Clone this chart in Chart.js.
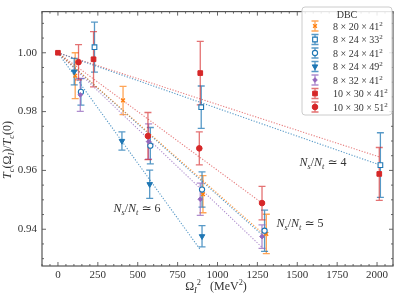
<!DOCTYPE html>
<html>
<head>
<meta charset="utf-8">
<script src="https://cdn.jsdelivr.net/npm/chart.js@4.4.0/dist/chart.umd.min.js"></script>
<style>
  html, body { margin: 0; padding: 0; background: #fff; }
  #wrap { width: 399px; height: 299px; }
</style>
</head>
<body>
<div id="wrap"><canvas id="chart"></canvas></div>
<script>
// data: x = Omega_I^2 (MeV^2), y = Tc(Omega_I)/Tc(0), e = error
const x8_20_41 = [108, 408, 909, 1306];
const y8_20_41 = [0.9922, 0.9838, 0.9519, 0.9384];
const e8_20_41 = [0.0078, 0.0048, 0.0063, 0.0067];

const x8_24_33 = [229, 898, 2021];
const y8_24_33 = [1.0019, 0.9815, 0.9618];
const e8_24_33 = [0.0085, 0.0072, 0.011];

const x8_24_41 = [144, 579, 903, 1295];
const y8_24_41 = [0.9867, 0.9684, 0.9535, 0.9395];
const e8_24_41 = [0.0045, 0.0062, 0.006, 0.007];

const x8_24_49 = [102, 401, 575, 903];
const y8_24_49 = [0.9936, 0.9700, 0.9553, 0.9376];
const e8_24_49 = [0.0045, 0.0031, 0.0048, 0.0036];

const x8_32_41 = [140, 568, 892, 1279];
const y8_32_41 = [0.9857, 0.9698, 0.9502, 0.9375];
const e8_32_41 = [0.0056, 0.006, 0.0055, 0.004];

const x10_30_41 = [0, 223, 892, 2014];
const y10_30_41 = [1.0, 0.9978, 0.9931, 0.9588];
const e10_30_41 = [0, 0.0094, 0.0108, 0.009];

const x10_30_51 = [129, 564, 886, 1279];
const y10_30_51 = [0.9968, 0.9717, 0.9675, 0.9489];
const e10_30_51 = [0.006, 0.008, 0.0056, 0.0057];

// dotted fit lines all start at (0, 1)
const fitEndX = [1300, 2021, 1290, 890, 1280, 2014, 1279];
const fitEndY = [0.9378, 0.9618, 0.9376, 0.9332, 0.9338, 0.9646, 0.9489];

const seriesLabels = ['8 × 20 × 41', '8 × 24 × 33', '8 × 24 × 41', '8 × 24 × 49', '8 × 32 × 41', '10 × 30 × 41', '10 × 30 × 51'];
const xTicks = [0, 250, 500, 750, 1000, 1250, 1500, 1750, 2000];
const yTicks = [0.94, 0.96, 0.98, 1.00];

const orange = '#ff7f0e', blue = '#1f77b4', purple = '#9467bd', red = '#d62728';
const styles = [
  { color: orange, bar: 'rgba(255,127,14,0.7)', point: 'crossRot', r: 2.6, fill: orange, bw: 1.4 },
  { color: blue, bar: 'rgba(31,119,180,0.75)', point: 'rect', r: 3.3, fill: '#fff', bw: 1.1 },
  { color: blue, bar: 'rgba(31,119,180,0.75)', point: 'circle', r: 2.6, fill: '#fff', bw: 1.1 },
  { color: blue, bar: 'rgba(31,119,180,0.75)', point: 'triangle', r: 3.2, fill: blue, bw: 1, rot: 180 },
  { color: purple, bar: 'rgba(148,103,189,0.75)', point: 'rectRot', r: 2.3, fill: purple, bw: 1 },
  { color: red, bar: 'rgba(214,39,40,0.65)', point: 'rect', r: 3.3, fill: red, bw: 1 },
  { color: red, bar: 'rgba(214,39,40,0.65)', point: 'circle', r: 2.8, fill: red, bw: 1 }
];
const fitColors = ['rgba(255,127,14,0.75)', 'rgba(31,119,180,0.75)', 'rgba(31,119,180,0.75)', 'rgba(31,119,180,0.75)',
                   'rgba(148,103,189,0.75)', 'rgba(214,39,40,0.6)', 'rgba(214,39,40,0.6)'];

const allX = [x8_20_41, x8_24_33, x8_24_41, x8_24_49, x8_32_41, x10_30_41, x10_30_51];
const allY = [y8_20_41, y8_24_33, y8_24_41, y8_24_49, y8_32_41, y10_30_41, y10_30_51];
const allE = [e8_20_41, e8_24_33, e8_24_41, e8_24_49, e8_32_41, e10_30_41, e10_30_51];

const FONT = '"Liberation Serif", "DejaVu Serif", serif';

const datasets = [];
allX.forEach((xs, i) => {
  datasets.push({
    type: 'line',
    label: 'fit' + i,
    data: [{ x: 0, y: 1 }, { x: fitEndX[i], y: fitEndY[i] }],
    borderColor: fitColors[i],
    borderWidth: 1.1,
    borderDash: [1.2, 1.6],
    pointRadius: 0,
    fill: false,
    order: 20
  });
});
allX.forEach((xs, i) => {
  const s = styles[i];
  datasets.push({
    type: 'scatter',
    label: seriesLabels[i],
    data: xs.map((v, k) => ({ x: v, y: allY[i][k], e: allE[i][k] })),
    pointStyle: s.point,
    pointRadius: s.r,
    pointRotation: s.rot || 0,
    backgroundColor: s.fill,
    borderColor: s.color,
    borderWidth: s.bw,
    errColor: s.bar,
    order: 10 - i
  });
});

// text with italic / sub / sup pieces: [text, italic, shift]
function richWidth(ctx, parts, size) {
  let w = 0;
  parts.forEach(p => {
    const fs = p[2] ? size * 0.7 : size;
    ctx.font = (p[1] ? 'italic ' : '') + fs + 'px ' + FONT;
    w += ctx.measureText(p[0]).width;
  });
  return w;
}
function drawRich(ctx, parts, x, y, size, align) {
  let w = richWidth(ctx, parts, size);
  let cx = align === 'center' ? x - w / 2 : align === 'right' ? x - w : x;
  ctx.textAlign = 'left';
  ctx.textBaseline = 'alphabetic';
  parts.forEach(p => {
    const fs = p[2] ? size * 0.7 : size;
    ctx.font = (p[1] ? 'italic ' : '') + fs + 'px ' + FONT;
    const dy = p[2] === 'sup' ? -size * 0.4 : p[2] === 'sub' ? size * 0.25 : 0;
    ctx.fillText(p[0], cx, y + dy);
    cx += ctx.measureText(p[0]).width;
  });
}

const errorBars = {
  id: 'errorBars',
  beforeDatasetsDraw(chart) {
    const { ctx, scales: { x, y } } = chart;
    ctx.save();
    ctx.lineWidth = 1.3;
    chart.data.datasets.forEach(ds => {
      if (!ds.errColor) return;
      ctx.strokeStyle = ds.errColor;
      ds.data.forEach(p => {
        if (!p.e) return;
        const px = x.getPixelForValue(p.x);
        const y1 = y.getPixelForValue(p.y + p.e);
        const y2 = y.getPixelForValue(p.y - p.e);
        ctx.beginPath();
        ctx.moveTo(px, y1); ctx.lineTo(px, y2);
        ctx.moveTo(px - 3.5, y1); ctx.lineTo(px + 3.5, y1);
        ctx.moveTo(px - 3.5, y2); ctx.lineTo(px + 3.5, y2);
        ctx.stroke();
      });
    });
    ctx.restore();
  }
};

const frame = {
  id: 'frame',
  afterDraw(chart) {
    const { ctx, chartArea: a, scales: { x, y } } = chart;
    ctx.save();
    ctx.strokeStyle = '#555';
    ctx.lineWidth = 1.2;
    ctx.strokeRect(a.left, a.top, a.right - a.left, a.bottom - a.top);
    ctx.lineWidth = 0.9;
    ctx.beginPath();
    for (let v = -100; v <= 2100; v += 50) {
      const px = x.getPixelForValue(v);
      if (px < a.left || px > a.right) continue;
      const len = v % 250 === 0 ? 4 : 2;
      ctx.moveTo(px, a.bottom); ctx.lineTo(px, a.bottom - len);
      ctx.moveTo(px, a.top); ctx.lineTo(px, a.top + len);
    }
    for (let k = 186; k <= 202; k++) {
      const v = k * 0.005;
      const py = y.getPixelForValue(v);
      if (py < a.top || py > a.bottom) continue;
      const len = k % 4 === 0 ? 4 : 2;
      ctx.moveTo(a.left, py); ctx.lineTo(a.left + len, py);
      ctx.moveTo(a.right, py); ctx.lineTo(a.right - len, py);
    }
    ctx.stroke();

    ctx.fillStyle = '#333';
    // axis titles
    drawRich(ctx, [['Ω', false], ['I', true, 'sub'], ['2', false, 'sup'], ['   (MeV', false], ['2', false, 'sup'], [')', false]],
      216, 290, 12, 'center');
    ctx.save();
    ctx.translate(11, 150);
    ctx.rotate(-Math.PI / 2);
    drawRich(ctx, [['T', true], ['c', true, 'sub'], ['(Ω', false], ['I', true, 'sub'], [')/', false],
      ['T', true], ['c', true, 'sub'], ['(0)', false]], 0, 0, 12, 'center');
    ctx.restore();

    // annotations
    const ns = n => [['N', true], ['s', true, 'sub'], ['/', false], ['N', true], ['t', true, 'sub'], [' ≃ ' + n, false]];
    drawRich(ctx, ns(4), 323, 166, 12, 'center');
    drawRich(ctx, ns(5), 300, 227, 12, 'center');
    drawRich(ctx, ns(6), 137, 212, 12, 'center');

    // legend
    const lx = 302, ly = 7, lw = 90, lh = 108;
    ctx.fillStyle = 'rgba(255,255,255,0.85)';
    ctx.strokeStyle = '#ccc';
    ctx.lineWidth = 1;
    ctx.beginPath();
    ctx.roundRect(lx, ly, lw, lh, 3);
    ctx.fill();
    ctx.stroke();
    ctx.fillStyle = '#333';
    ctx.font = '10px ' + FONT;
    ctx.textAlign = 'center';
    ctx.textBaseline = 'alphabetic';
    ctx.fillText('DBC', 347, 18);
    const pts = chart.data.datasets.filter(ds => ds.errColor);
    pts.forEach((ds, i) => {
      const ry = 26 + i * 13.5;
      const mx = 315;
      ctx.strokeStyle = ds.errColor;
      ctx.lineWidth = 1.3;
      ctx.beginPath();
      ctx.moveTo(mx, ry - 5); ctx.lineTo(mx, ry + 5);
      ctx.moveTo(mx - 3.5, ry - 5); ctx.lineTo(mx + 3.5, ry - 5);
      ctx.moveTo(mx - 3.5, ry + 5); ctx.lineTo(mx + 3.5, ry + 5);
      ctx.stroke();
      ctx.fillStyle = ds.backgroundColor;
      ctx.strokeStyle = ds.borderColor;
      ctx.lineWidth = ds.borderWidth;
      Chart.helpers.drawPoint(ctx, { pointStyle: ds.pointStyle, radius: ds.pointRadius, rotation: ds.pointRotation, borderWidth: ds.borderWidth }, mx, ry);
      ctx.fillStyle = '#333';
      drawRich(ctx, [[ds.label, false], ['2', false, 'sup']], 333, ry + 3.5, 10, 'left');
    });
    ctx.restore();
  }
};

new Chart(document.getElementById('chart'), {
  data: { datasets: datasets },
  options: {
    responsive: true,
    maintainAspectRatio: false,
    animation: false,
    layout: { padding: { top: 3, right: 6, left: 0, bottom: 0 } },
    plugins: { legend: { display: false }, tooltip: { enabled: false } },
    scales: {
      x: {
        type: 'linear',
        min: -100,
        max: 2100,
        afterBuildTicks: s => { s.ticks = xTicks.map(v => ({ value: v })); },
        afterFit: s => { s.height = 33; },
        grid: { display: false, drawTicks: false },
        border: { display: false },
        ticks: { autoSkip: false, maxRotation: 0, padding: 3, color: '#333', font: { family: FONT, size: 11 },
                 callback: v => String(v) }
      },
      y: {
        type: 'linear',
        min: 0.9275,
        max: 1.014,
        afterBuildTicks: s => { s.ticks = yTicks.map(v => ({ value: v })); },
        afterFit: s => { s.width = 42; },
        grid: { display: false, drawTicks: false },
        border: { display: false },
        ticks: { padding: 5, color: '#333', font: { family: FONT, size: 11 }, callback: v => v.toFixed(2) }
      }
    }
  },
  plugins: [errorBars, frame]
});
</script>
</body>
</html>
